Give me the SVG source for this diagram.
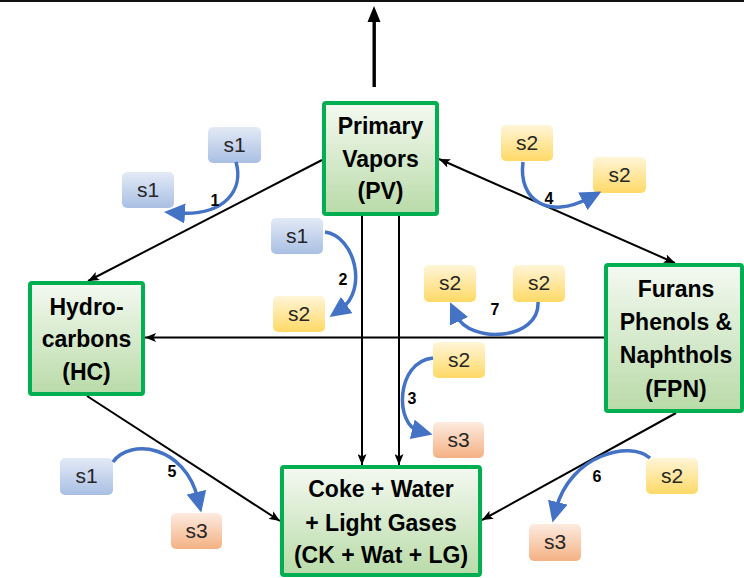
<svg xmlns="http://www.w3.org/2000/svg" width="744" height="578" viewBox="0 0 744 578">
  <defs>
    <linearGradient id="gGreen" x1="0" y1="0" x2="0" y2="1">
      <stop offset="0" stop-color="#f4f9f1"/>
      <stop offset="1" stop-color="#b9dba8"/>
    </linearGradient>
    <linearGradient id="gBlue" x1="0" y1="0" x2="0" y2="1">
      <stop offset="0" stop-color="#e3eaf6"/>
      <stop offset="1" stop-color="#a9bfe3"/>
    </linearGradient>
    <linearGradient id="gYellow" x1="0" y1="0" x2="0" y2="1">
      <stop offset="0" stop-color="#fff5d8"/>
      <stop offset="1" stop-color="#ffd966"/>
    </linearGradient>
    <linearGradient id="gOrange" x1="0" y1="0" x2="0" y2="1">
      <stop offset="0" stop-color="#fdebe0"/>
      <stop offset="1" stop-color="#f4b183"/>
    </linearGradient>
    <marker id="blk" viewBox="0 0 11 9" markerWidth="11" markerHeight="9" refX="11" refY="4.5" orient="auto-start-reverse" markerUnits="userSpaceOnUse">
      <path d="M0,0 L11,4.5 L0,9 L2.5,4.5 z" fill="#000"/>
    </marker>
    <marker id="blu" viewBox="0 0 21 20" markerWidth="21" markerHeight="20" refX="7" refY="10" orient="auto" markerUnits="userSpaceOnUse">
      <path d="M0,0 L21,10 L0,20 z" fill="#4472c4"/>
    </marker>
  </defs>
  <style>
    .node rect { stroke: #00b050; stroke-width: 4; fill: url(#gGreen); }
    .node text { font-family: "Liberation Sans", Arial, sans-serif; font-weight: bold; font-size: 23px; fill: #000; text-anchor: middle; }
    .edge { stroke: #000; stroke-width: 2; fill: none; marker-end: url(#blk); }
    .tok rect { rx: 5px; ry: 5px; }
    .tok text { font-family: "Liberation Sans", Arial, sans-serif; font-size: 21px; fill: #262626; text-anchor: middle; }
    .b rect { fill: url(#gBlue); }
    .y rect { fill: url(#gYellow); }
    .o rect { fill: url(#gOrange); }
    .rx { stroke: #4472c4; stroke-width: 3.5; fill: none; marker-end: url(#blu); }
    .num { font-family: "Liberation Sans", Arial, sans-serif; font-weight: bold; font-size: 16px; fill: #000; text-anchor: middle; }
  </style>

  <!-- frame line and outlet arrow -->
  <line x1="0" y1="1" x2="744" y2="1" stroke="#111" stroke-width="2"/>
  <g id="outlet">
    <rect x="372.5" y="19" width="3.4" height="68" fill="#000"/>
    <polygon points="374,6 367.5,22 380.5,22" fill="#000"/>
  </g>

  <!-- reaction connectors -->
  <g id="connectors">
    <path class="edge" d="M322,160 L88,281"/>
    <path class="edge" d="M439,159 L675,263" marker-start="url(#blk)"/>
    <path class="edge" d="M604,337.5 L145,337.5"/>
    <path class="edge" d="M87,396 L280,521"/>
    <path class="edge" d="M676,413 L482,520"/>
    <path class="edge" d="M362,216 L362,465"/>
    <path class="edge" d="M399,216 L399,465"/>
  </g>

  <!-- lumped species -->
  <g id="PV" class="node">
    <rect x="324" y="103" width="113" height="111" rx="2"/>
    <text x="380.5" y="134">Primary</text>
    <text x="380.5" y="167">Vapors</text>
    <text x="380.5" y="199">(PV)</text>
  </g>
  <g id="HC" class="node">
    <rect x="30" y="283" width="113" height="111" rx="2"/>
    <text x="86.5" y="315">Hydro-</text>
    <text x="86.5" y="347">carbons</text>
    <text x="86.5" y="380">(HC)</text>
  </g>
  <g id="FPN" class="node">
    <rect x="606" y="265" width="136" height="146" rx="2"/>
    <text x="676" y="297">Furans</text>
    <text x="676" y="330">Phenols &amp;</text>
    <text x="676" y="363">Naphthols</text>
    <text x="676" y="397">(FPN)</text>
  </g>
  <g id="CK" class="node">
    <rect x="282" y="467" width="198" height="108" rx="2"/>
    <text x="381" y="497">Coke + Water</text>
    <text x="381" y="531">+ Light Gases</text>
    <text x="381" y="563">(CK + Wat + LG)</text>
  </g>

  <!-- site tokens -->
  <g id="t1a" class="tok b"><rect x="208" y="127" width="53" height="36"/><text x="234.5" y="152">s1</text></g>
  <g id="t1b" class="tok b"><rect x="122" y="172" width="52" height="36"/><text x="148" y="197">s1</text></g>
  <g id="t2a" class="tok b"><rect x="271" y="218" width="52" height="36"/><text x="297" y="243">s1</text></g>
  <g id="t2b" class="tok y"><rect x="273" y="296" width="52" height="36"/><text x="299" y="321">s2</text></g>
  <g id="t4a" class="tok y"><rect x="501" y="125" width="52" height="36"/><text x="527" y="150">s2</text></g>
  <g id="t4b" class="tok y"><rect x="593" y="157" width="53" height="36"/><text x="619.5" y="182">s2</text></g>
  <g id="t7a" class="tok y"><rect x="424" y="265" width="52" height="37"/><text x="450" y="290">s2</text></g>
  <g id="t7b" class="tok y"><rect x="513" y="265" width="52" height="37"/><text x="539" y="290">s2</text></g>
  <g id="t3a" class="tok y"><rect x="433" y="342" width="52" height="36"/><text x="459" y="367">s2</text></g>
  <g id="t3b" class="tok o"><rect x="433" y="422" width="51" height="36"/><text x="458.5" y="447">s3</text></g>
  <g id="t5a" class="tok b"><rect x="60" y="458" width="53" height="37"/><text x="86.5" y="483">s1</text></g>
  <g id="t5b" class="tok o"><rect x="171" y="513" width="51" height="36"/><text x="196.5" y="538">s3</text></g>
  <g id="t6a" class="tok y"><rect x="646" y="458" width="52" height="36"/><text x="672" y="483">s2</text></g>
  <g id="t6b" class="tok o"><rect x="529" y="524" width="52" height="37"/><text x="555" y="549">s3</text></g>

  <!-- site transitions -->
  <g id="site-arrows">
    <path class="rx" d="M236,162 C244,190 225,216 178,213"/>
    <path class="rx" d="M325,232 C355,236 368,290 341,309"/>
    <path class="rx" d="M523,162 C518,200 548,220 589,198"/>
    <path class="rx" d="M538,302 C540,340 470,345 456,315"/>
    <path class="rx" d="M433,358 C395,362 395,425 419,431"/>
    <path class="rx" d="M113,462 C130,438 185,445 198,499"/>
    <path class="rx" d="M650,458 C630,440 570,455 556,509"/>
  </g>

  <!-- reaction numbers -->
  <g id="labels">
    <text class="num" x="215" y="206">1</text>
    <text class="num" x="343" y="285">2</text>
    <text class="num" x="412" y="404">3</text>
    <text class="num" x="549" y="204">4</text>
    <text class="num" x="172" y="477">5</text>
    <text class="num" x="597" y="482">6</text>
    <text class="num" x="495" y="315">7</text>
  </g>
</svg>
